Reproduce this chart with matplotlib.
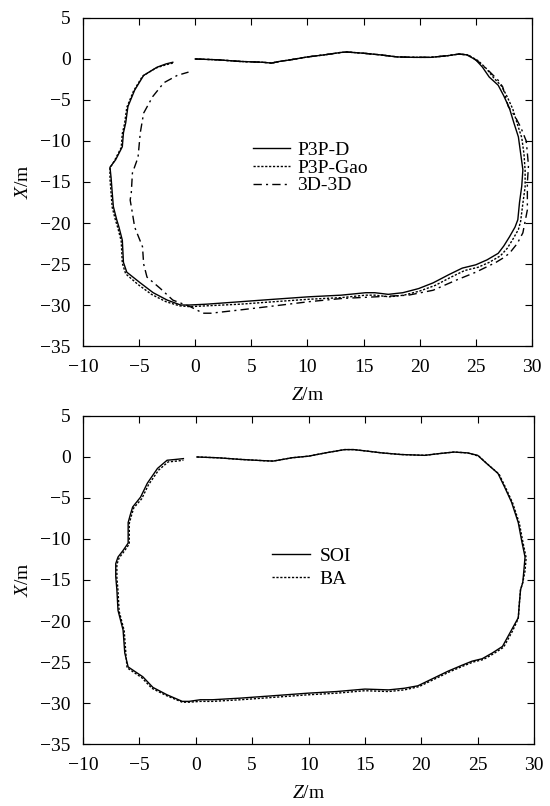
import matplotlib
matplotlib.use("Agg")
import matplotlib.pyplot as plt

plt.rcParams['font.family'] = ['Liberation Serif', 'DejaVu Serif']
plt.rcParams['mathtext.fontset'] = 'custom'
plt.rcParams['mathtext.rm'] = 'Liberation Serif'
plt.rcParams['mathtext.it'] = 'Liberation Serif:italic'

# ---------------- top panel data (Z, X) ----------------
p3pd_z = [0, 2, 4, 6, 6.8, 7.5, 8.5, 10, 11.5, 13, 13.5, 15, 16.5, 18, 19.5, 21, 22.5, 23.5, 24.2,
          25.0, 25.6, 26.2, 27.0, 27.5, 28.0, 28.4, 28.8, 29.0, 29.2, 29.1, 28.9, 28.75, 28.5, 28.0,
          27.5, 27.0, 26.0, 25.0, 23.8, 22.6, 21.2, 19.9, 18.5, 17.2, 16.0, 15.2, 13.0, 10.1, 7.0,
          4.0, 1.0, -0.5, -1.3, -2.5, -3.75, -4.9, -6.1, -6.4, -6.5, -6.8, -7.0, -7.3, -7.4, -7.5,
          -7.6, -7.1, -6.5, -6.4, -6.2, -6.0, -5.4, -4.6, -3.4, -2.6, -2.0]
p3pd_x = [0, -0.1, -0.3, -0.4, -0.5, -0.3, -0.1, 0.25, 0.5, 0.8, 0.85, 0.7, 0.5, 0.25, 0.2, 0.2, 0.4,
          0.6, 0.5, -0.1, -1.0, -2.2, -3.2, -4.5, -6.0, -7.8, -9.5, -11.5, -13.5, -15.5, -17.5,
          -19.6, -20.5, -21.7, -22.8, -23.7, -24.5, -25.1, -25.5, -26.3, -27.3, -28.0, -28.5, -28.7,
          -28.5, -28.5, -28.8, -29.0, -29.3, -29.6, -29.9, -30.0, -30.0, -29.4, -28.5, -27.3, -26.0,
          -24.8, -22.1, -20.5, -19.6, -18.0, -16.3, -14.5, -13.2, -12.3, -10.7, -9.0, -7.8, -5.8,
          -3.8, -2.0, -1.0, -0.6, -0.4]

gao_z = [0, 2, 4, 6, 6.8, 7.5, 8.5, 10, 11.5, 13, 13.5, 15, 16.5, 18, 19.5, 21, 22.5, 23.5, 24.3,
         25.2, 25.9, 26.6, 27.3, 27.8, 28.3, 28.7, 29.1, 29.3, 29.4, 29.4, 29.2, 29.0, 28.8, 28.3,
         27.8, 27.2, 26.2, 25.2, 24.0, 22.8, 21.4, 20.0, 18.6, 17.3, 16.0, 15.2, 13.0, 10.1, 7.0,
         4.0, 1.0, -0.5, -1.4, -2.6, -3.9, -5.1, -6.2, -6.5, -6.6, -6.9, -7.1, -7.4, -7.5, -7.6,
         -7.6, -7.2, -6.6, -6.5, -6.3, -6.1, -5.5, -4.7, -3.5, -2.6, -2.0]
gao_x = [0, -0.1, -0.3, -0.4, -0.5, -0.3, -0.1, 0.25, 0.5, 0.8, 0.85, 0.7, 0.5, 0.25, 0.2, 0.2, 0.4,
         0.6, 0.5, -0.2, -1.1, -2.3, -3.3, -4.6, -6.1, -7.9, -9.6, -11.6, -13.6, -15.6, -17.6,
         -19.8, -20.8, -22.0, -23.1, -24.0, -24.8, -25.4, -25.8, -26.6, -27.6, -28.3, -28.8, -29.0,
         -28.8, -28.8, -29.1, -29.3, -29.6, -29.9, -30.1, -30.2, -30.1, -29.6, -28.7, -27.5, -26.2,
         -24.9, -22.2, -20.6, -19.7, -18.1, -16.4, -14.6, -13.3, -12.4, -10.8, -9.1, -7.9, -5.9,
         -3.9, -2.1, -1.1, -0.7, -0.5]

dd_z = [0, 2, 4, 6, 6.8, 7.5, 8.5, 10, 11.5, 13, 13.5, 15, 16.5, 18, 19.5, 21, 22.5, 23.5, 24.3,
        25.3, 26.2, 27.0, 27.4, 27.9, 28.5, 29.0, 29.5, 29.6, 29.7, 29.6, 29.6, 29.2, 28.7, 28.0,
        27.4, 26.8, 25.0, 23.2, 21.2, 19.0, 16.1, 13.1, 10.1, 7.1, 4.0, 1.4, 0.7, -0.45, -2.0,
        -3.1, -4.3, -4.6, -4.7, -5.4, -5.6, -5.8, -5.7, -5.6, -5.1, -4.9, -4.6, -3.8, -2.8, -1.6,
        -0.6]
dd_x = [0, -0.1, -0.3, -0.4, -0.5, -0.3, -0.1, 0.25, 0.5, 0.8, 0.85, 0.7, 0.5, 0.25, 0.2, 0.2, 0.4,
        0.6, 0.5, -0.4, -1.5, -2.6, -3.4, -5.8, -7.0, -8.3, -10.0, -11.5, -13.0, -15.1, -18.4,
        -21.2, -22.5, -23.7, -24.3, -24.8, -26.0, -27.0, -28.2, -28.8, -29.0, -29.2, -29.6, -30.1,
        -30.6, -31.0, -31.0, -30.2, -29.4, -28.0, -26.6, -25.0, -22.9, -20.5, -18.8, -17.2, -16.3,
        -13.9, -12.0, -9.0, -6.6, -4.6, -2.9, -2.0, -1.6]

# ---------------- bottom panel data (Z, X) ----------------
soi_z = [0.1, 2, 4, 6, 6.85, 7.5, 8.5, 10, 11.5, 13.2, 14, 15.3, 16.5, 18.2, 20.3, 21.5, 22.9, 24.1,
         25.0, 25.8, 26.8, 27.4, 28.0, 28.6, 28.9, 29.2, 29.1, 29.0, 28.8, 28.7, 28.6, 28.0, 27.2,
         26.3, 25.4, 24.5, 23.6, 22.4, 21.2, 19.7, 18.5, 17.1, 15.0, 12.5, 9.95, 7.0, 4.0, 1.5, 0.4,
         -0.6, -1.2, -2.55, -3.8, -4.7, -6.0, -6.3, -6.45, -6.9, -7.0, -7.1, -7.1, -6.9, -6.45,
         -6.0, -6.0, -5.8, -5.6, -4.9, -4.3, -3.4, -2.55, -1.8, -1.1]
soi_x = [0, -0.1, -0.3, -0.45, -0.5, -0.35, -0.1, 0.1, 0.5, 0.9, 0.9, 0.7, 0.5, 0.3, 0.2, 0.4, 0.6,
         0.5, 0.2, -0.8, -2.0, -3.7, -5.5, -8.0, -10.2, -12.2, -13.8, -15.3, -16.2, -17.8, -19.6,
         -21.1, -23.1, -23.9, -24.6, -24.9, -25.4, -26.1, -26.9, -27.9, -28.2, -28.4, -28.3, -28.6,
         -28.8, -29.1, -29.4, -29.6, -29.6, -29.8, -29.8, -29.0, -28.1, -26.8, -25.6, -23.9, -21.1,
         -18.7, -16.2, -14.6, -13.0, -12.2, -11.4, -10.5, -8.0, -7.0, -6.1, -4.9, -3.2, -1.4, -0.4,
         -0.3, -0.2]

ba_z = [0.1, 2, 4, 6, 6.85, 7.5, 8.5, 10, 11.5, 13.2, 14, 15.3, 16.5, 18.2, 20.3, 21.5, 22.9, 24.1,
        25.1, 25.9, 26.9, 27.5, 28.1, 28.7, 29.0, 29.3, 29.2, 29.0, 28.8, 28.7, 28.6, 28.1, 27.3,
        26.4, 25.5, 24.6, 23.7, 22.5, 21.3, 19.8, 18.5, 17.1, 15.0, 12.5, 9.95, 7.0, 4.0, 1.5, 0.4,
        -0.6, -1.2, -2.6, -3.9, -4.8, -6.1, -6.2, -6.35, -6.8, -6.9, -7.0, -7.0, -6.8, -6.35,
        -5.9, -5.9, -5.7, -5.5, -4.8, -4.2, -3.3, -2.45, -1.7, -1.1]
ba_x = [0, -0.1, -0.3, -0.45, -0.5, -0.35, -0.1, 0.1, 0.5, 0.9, 0.9, 0.7, 0.5, 0.3, 0.2, 0.4, 0.6,
        0.5, 0.1, -0.9, -2.1, -3.8, -5.6, -8.1, -10.3, -12.3, -13.9, -15.3, -16.2, -17.8, -19.7,
        -21.2, -23.2, -24.0, -24.7, -25.0, -25.5, -26.2, -27.0, -28.0, -28.4, -28.6, -28.5, -28.8,
        -29.0, -29.3, -29.6, -29.8, -29.8, -29.9, -29.9, -29.1, -28.2, -26.9, -25.7, -24.0, -21.2,
        -18.8, -16.3, -14.7, -13.1, -12.3, -11.5, -10.6, -8.1, -7.1, -6.2, -5.1, -3.4, -1.6, -0.6,
        -0.5, -0.4]

top_labels = ['P3P-D', 'P3P-Gao', '3D-3D']
bottom_labels = ['SOI', 'BA']
xticks = [-10, -5, 0, 5, 10, 15, 20, 25, 30]
yticks = [5, 0, -5, -10, -15, -20, -25, -30, -35]

FS = 14
fig = plt.figure(figsize=(5.5, 8.06), dpi=100)
ax1 = fig.add_axes([0.151, 0.5707, 0.816, 0.407])
ax2 = fig.add_axes([0.151, 0.0769, 0.820, 0.407])

dotted = (0, (1.6, 1.2))
dashdot = (0, (6, 3, 1.5, 3))

ax1.plot(p3pd_z, p3pd_x, color='black', lw=1.0, ls='-', label=top_labels[0])
ax1.plot(gao_z, gao_x, color='black', lw=1.0, ls=dotted, label=top_labels[1])
ax1.plot(dd_z, dd_x, color='black', lw=1.0, ls=dashdot, label=top_labels[2])

ax2.plot(soi_z, soi_x, color='black', lw=1.0, ls='-', label=bottom_labels[0])
ax2.plot(ba_z, ba_x, color='black', lw=1.0, ls=dotted, label=bottom_labels[1])

for ax in (ax1, ax2):
    ax.set_xlim(-10, 30)
    ax.set_ylim(-35, 5)
    ax.set_xticks(xticks)
    ax.set_yticks(yticks)
    ax.tick_params(direction='in', top=True, right=True, length=5, width=0.8,
                   labelsize=FS, pad=9)
    for s in ax.spines.values():
        s.set_linewidth(0.9)
    ax.set_xlabel(r'$Z$/m', fontsize=FS, labelpad=8)
    ax.set_ylabel(r'$X$/m', fontsize=FS, labelpad=6)

ax1.legend(loc='center left', bbox_to_anchor=(0.379, 0.543), frameon=False, fontsize=FS,
           borderpad=0, borderaxespad=0, handlelength=1.9, handletextpad=0.35,
           labelspacing=0.0)
ax2.legend(loc='center left', bbox_to_anchor=(0.419, 0.537), frameon=False, fontsize=FS,
           borderpad=0, borderaxespad=0, handlelength=1.95, handletextpad=0.5,
           labelspacing=0.27)

fig.savefig('out.png', dpi=100)
